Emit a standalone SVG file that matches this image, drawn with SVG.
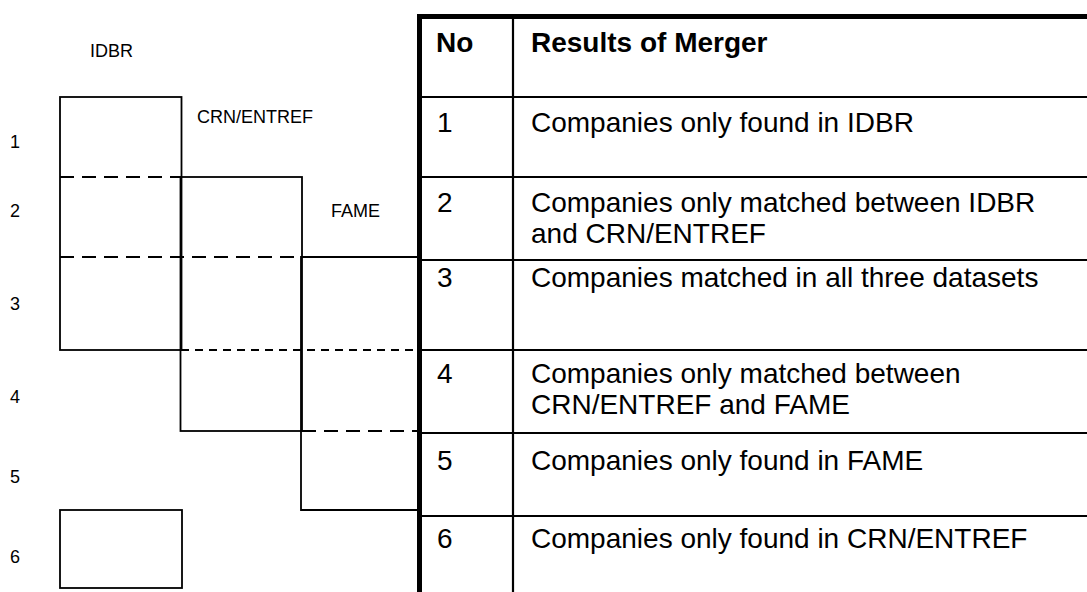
<svg xmlns="http://www.w3.org/2000/svg" width="1087" height="592" viewBox="0 0 1087 592">
<style>
.lbl{font-family:"Liberation Sans",Arial,sans-serif;font-size:18px;fill:#000}
.tt{font-family:"Liberation Sans",Arial,sans-serif;font-size:28px;fill:#000}
.th{font-family:"Liberation Sans",Arial,sans-serif;font-size:28px;font-weight:bold;fill:#000}
.box{fill:none;stroke:#000;stroke-width:1.8}
.dl{fill:none;stroke:#000;stroke-width:1.8;stroke-dasharray:14 8}
.ds{fill:none;stroke:#000;stroke-width:1.8;stroke-dasharray:8 6}
.tl{fill:none;stroke:#000;stroke-width:2.2}
.tk{fill:none;stroke:#000;stroke-width:5}
</style>
<rect width="1087" height="592" fill="#fff"/>
<g id="row-labels">
<text class="lbl" x="10" y="148">1</text>
<text class="lbl" x="10" y="217">2</text>
<text class="lbl" x="10" y="310">3</text>
<text class="lbl" x="10" y="403">4</text>
<text class="lbl" x="10" y="483">5</text>
<text class="lbl" x="10" y="563">6</text>
</g>
<g id="idbr">
<rect class="box" x="60" y="97" width="121.5" height="253"/>
<text class="lbl" x="90" y="56.5">IDBR</text>
</g>
<g id="crn">
<rect class="box" x="180.5" y="177" width="121.5" height="254"/>
<text class="lbl" x="197" y="123">CRN/ENTREF</text>
</g>
<g id="fame">
<path class="box" d="M418 257 H301 V510 H418"/>
<text class="lbl" x="331" y="217">FAME</text>
</g>
<g id="box6">
<rect class="box" x="60" y="510" width="122" height="78"/>
</g>
<g id="connectors">
<line class="dl" x1="60" y1="177" x2="181" y2="177"/>
<line class="dl" x1="60" y1="257" x2="302" y2="257"/>
<line class="ds" x1="181" y1="350" x2="418" y2="350"/>
<line class="dl" x1="302" y1="431" x2="418" y2="431"/>
</g>
<g id="table">
<line class="tk" x1="417" y1="16.5" x2="1087" y2="16.5"/>
<line class="tk" x1="419.5" y1="14" x2="419.5" y2="592"/>
<line class="tl" x1="513" y1="19" x2="513" y2="592"/>
<line class="tl" x1="422" y1="97" x2="1087" y2="97"/>
<line class="tl" x1="422" y1="177" x2="1087" y2="177"/>
<line class="tl" x1="422" y1="260" x2="1087" y2="260"/>
<line class="tl" x1="422" y1="350" x2="1087" y2="350"/>
<line class="tl" x1="422" y1="433" x2="1087" y2="433"/>
<line class="tl" x1="422" y1="516" x2="1087" y2="516"/>
<text class="th" x="436" y="52">No</text>
<text class="th" x="531" y="52">Results of Merger</text>
<text class="tt" x="437" y="132">1</text>
<text class="tt" x="531" y="132">Companies only found in IDBR</text>
<text class="tt" x="437" y="212">2</text>
<text class="tt" x="531" y="212">Companies only matched between IDBR</text>
<text class="tt" x="531" y="243">and CRN/ENTREF</text>
<text class="tt" x="437" y="287">3</text>
<text class="tt" x="531" y="287">Companies matched in all three datasets</text>
<text class="tt" x="437" y="383">4</text>
<text class="tt" x="531" y="383">Companies only matched between</text>
<text class="tt" x="531" y="414">CRN/ENTREF and FAME</text>
<text class="tt" x="437" y="470">5</text>
<text class="tt" x="531" y="470">Companies only found in FAME</text>
<text class="tt" x="437" y="548">6</text>
<text class="tt" x="531" y="548">Companies only found in CRN/ENTREF</text>
</g>
</svg>
